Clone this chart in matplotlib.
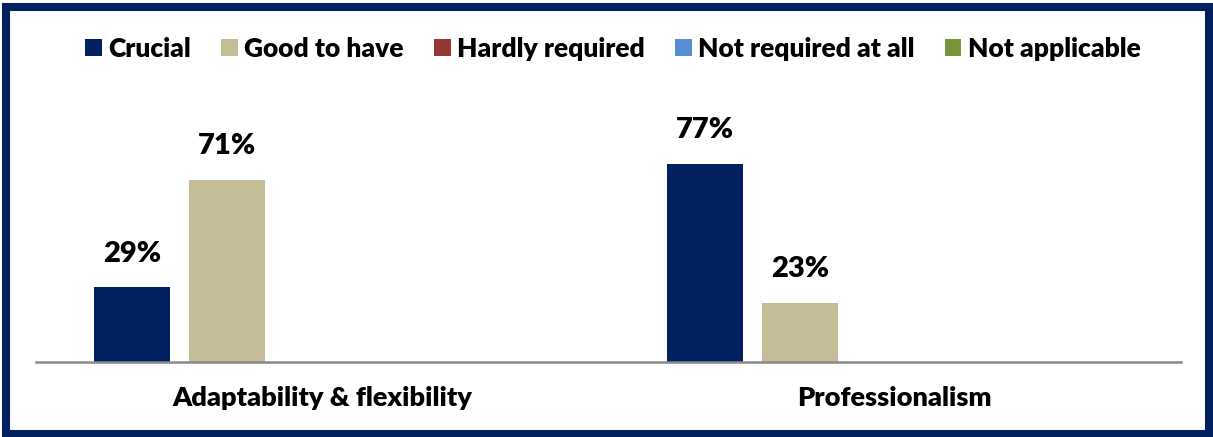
import matplotlib
matplotlib.use("Agg")
import matplotlib.pyplot as plt
from matplotlib.patches import Rectangle
import numpy as np

# chart data
categories = ["Adaptability & flexibility", "Professionalism"]
series_names = ["Crucial", "Good to have", "Hardly required", "Not required at all", "Not applicable"]
values = {
    "Crucial": [29, 77],
    "Good to have": [71, 23],
    "Hardly required": [0, 0],
    "Not required at all": [0, 0],
    "Not applicable": [0, 0],
}
colors = ["#002060", "#C4BD97", "#953735", "#558ED5", "#77933C"]

plt.rcParams['font.family'] = ['Lato', 'DejaVu Sans']
weight = "heavy"

fig = plt.figure(figsize=(12.13, 4.37), dpi=100)
ax = fig.add_axes([36 / 1213, 1 - 362 / 437, (1181 - 36) / 1213, 257 / 437])

x = np.arange(len(categories))
step = 0.166
width = 0.133
for i, name in enumerate(series_names):
    pos = x + (i - 2) * step
    bars = ax.bar(pos, values[name], width=width, color=colors[i], label=name)
    for b, v in zip(bars, values[name]):
        if v > 0:
            ax.annotate(f"{v}%", (b.get_x() + b.get_width() / 2, v),
                        xytext=(0, 15), textcoords="offset points",
                        ha="center", va="bottom", fontsize=21, fontweight=weight)

ax.set_xlim(-0.5, 1.5)
ax.set_ylim(0, 100)
ax.set_yticks([])
ax.set_xticks(x)
ax.set_xticklabels(categories, fontsize=19.5, fontweight=weight)
ax.tick_params(axis="x", length=0, pad=17)
for s in ["top", "right", "left"]:
    ax.spines[s].set_visible(False)
ax.spines["bottom"].set_color("#898989")
ax.spines["bottom"].set_linewidth(1.8)

fig.legend(loc="center", bbox_to_anchor=(613 / 1213, 1 - 49 / 437), ncol=5,
           frameon=False, prop={"size": 19, "weight": weight},
           handlelength=0.62, handleheight=0.62,
           handletextpad=0.25, columnspacing=1.15, borderaxespad=0)

# navy frame around the whole figure
fig.patches.append(Rectangle((6 / 1213, 3.5 / 437), 1203 / 1213, 427 / 437,
                             transform=fig.transFigure, fill=False,
                             edgecolor="#002060", linewidth=5.8))

fig.savefig("out.png", dpi=100)
